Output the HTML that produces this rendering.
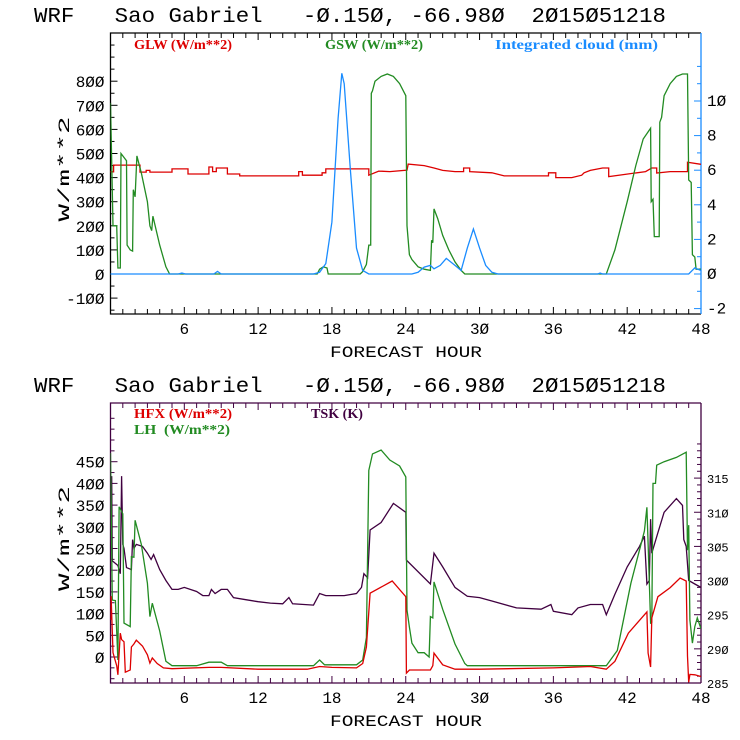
<!DOCTYPE html>
<html><head><meta charset="utf-8"><style>
html,body{margin:0;padding:0;background:#fff;width:740px;height:740px;overflow:hidden}
svg{display:block}
text{white-space:pre}
.t{font-family:"Liberation Mono",monospace;font-size:21px;fill:#000}
.ax{font-family:"Liberation Mono",monospace;font-size:16px;fill:#000}
.sm{font-family:"Liberation Mono",monospace;font-size:12px;fill:#000}
.lg{font-family:"Liberation Serif",serif;font-size:14px;font-weight:bold}
</style></head><body>
<svg id="chart" width="740" height="740" viewBox="0 0 740 740" xmlns="http://www.w3.org/2000/svg"></svg>
<script>
// ---- data (hours, values) ----
const glwH=[0,0.25,0.25,2.4,2.4,2.9,2.9,3.2,3.2,5,5,6.3,6.3,8,8,8.3,8.3,8.6,8.6,9.5,9.5,10.5,10.5,15.3,15.3,15.6,15.6,17.2,17.2,17.5,17.5,21,21,21.8,22.7,24.1,24.2,25.5,26.3,27,28,28.7,28.7,29.2,29.2,31,32,35.6,35.6,36.2,36.2,37.5,38.3,38.5,39,40,40.5,40.5,43.5,44,44.4,44.4,45.5,46.9,46.9,48];
const glwV=[424,424,452,452,423,423,430,430,423,423,436,436,415,415,444,444,425,425,440,440,415,415,407,407,425,425,410,410,420,420,436,436,410,427,425,431,456,450,440,430,425,425,440,440,425,420,407,407,420,420,400,400,410,420,430,440,440,404,425,440,440,419,425,425,464,455];
const gswH=[0,0.2,0.5,0.6,0.8,0.85,1.3,1.35,1.6,1.8,1.85,2.0,2.15,2.5,3.0,3.2,3.35,3.45,4,4.5,4.8,16.8,17.0,17.3,17.6,17.7,20.3,20.5,20.8,21.0,21.15,21.2,21.3,21.5,22,22.5,23,23.5,24,24.1,24.3,24.5,25,25.5,26,26.1,26.2,26.3,26.6,27,27.5,28,28.5,28.8,40.3,41,42,42.7,43.3,43.9,43.95,44.1,44.2,44.6,44.65,44.8,45,45.5,46,46.5,46.9,47.0,47.2,47.3,47.5,47.6,48];
const gswV=[710,200,200,25,25,500,470,120,100,95,350,320,490,420,300,200,180,240,120,30,0,0,20,30,25,0,0,10,40,120,120,750,760,800,820,830,820,790,740,200,80,60,30,20,15,140,130,270,230,160,100,50,15,0,0,100,300,450,560,605,300,310,155,155,630,650,740,790,820,830,830,390,380,80,70,20,20];
const cldH=[0,5.5,5.8,6.1,8.4,8.7,9,16.5,17,17.5,18,18.5,18.8,19,19.5,20,20.5,21,24.5,25,25.5,26,26.3,26.8,27.3,28,28.5,29,29.5,30,30.5,31,31.5,39.6,39.8,40,47,47.5,48];
const cldV=[0,0,0.05,0,0,0.15,0,0,0.1,0.6,3,9,11.6,11,6,1.5,0.2,0,0,0.1,0.4,0.5,0.3,0.5,0.9,0.5,0.2,1.5,2.6,1.5,0.5,0.1,0,0,0.05,0,0,0.35,0.2];
const hfxH=[0,0.05,0.2,0.5,0.6,0.8,0.9,1.1,1.2,1.6,1.7,1.9,2.1,2.6,3,3.2,3.4,3.8,4.3,5,8,9,12,16,17,18,20,20.5,20.8,21.1,22.9,24,24.05,24.3,26,26.2,26.3,27,28,30,36,38,39,40.3,41,42.1,43.6,43.7,43.9,44,44.5,45.5,46.3,46.8,46.9,47,47.1,47.5,48];
const hfxV=[85,140,10,-20,-41,55,40,35,-35,-30,23,30,39,25,5,-14,-2,-15,-25,-27,-24,-24,-28,-28,-22,-24,-25,-15,23,147,175,139,-37,-30,-30,-20,9,-18,-28,-28,-25,-23,-22,-28,-10,55,104,9,-23,90,139,160,182,175,2,-58,-40,-41,-45];
const lhH=[0,0.15,0.4,0.6,0.7,1.0,1.1,1.6,1.7,1.9,2.0,2.5,3.0,3.2,3.4,4,4.5,5,7,8,9,9.5,10,16.5,17,17.4,20,20.5,20.8,21,21.3,22,22.7,23.5,24,24.1,24.3,24.5,25,25.5,25.9,26,26.2,26.3,27,28,28.8,29,40.3,41.2,42.3,43.4,43.6,43.7,43.9,44.0,44.1,44.3,44.4,45,46,46.8,46.9,47.0,47.1,47.3,47.5,47.7,48];
const lhV=[470,131,130,-7,346,330,78,70,231,230,315,260,170,93,124,60,-10,-20,-20,-12,-12,-20,-20,-20,-7,-18,-18,-7,45,430,468,477,454,440,415,108,69,32,10,10,0,93,90,173,110,30,-15,-20,-20,15,170,290,345,262,78,80,400,400,442,450,460,472,246,304,85,32,70,90,65];
const tskH=[0,0.1,0.15,0.2,0.6,0.8,0.9,1.0,1.1,1.3,1.7,1.8,1.9,2.1,2.6,3,3.3,3.5,4,4.5,5,5.5,6,7,7.5,8,8.2,8.5,9,9.5,10,11,12,13,14,14.5,14.8,16.5,17,17.5,19,20,20.4,20.6,20.9,21.1,22,23,24,24.05,26,26.3,27,28,29,30,31,33,35,35.8,36,37.5,38,39,40,40.3,41,42,43,43.4,43.6,43.8,43.9,44,44.5,45,46,46.5,46.6,46.8,47,47.5,48];
const tskV=[307.8,315.3,302.8,302.8,302.2,301,315.3,305.3,304.7,301.9,301.6,306,304.7,305.3,305,304,303.1,303.8,301.6,300,298.7,298.7,299,298.4,297.8,297.8,298.7,298.1,298.7,298.7,297.5,297.2,296.9,296.7,296.6,297.5,296.6,296.4,298.1,297.8,297.8,298.1,299,301,300.4,307.4,308.5,311.3,310,303,299.5,304,302,299,297.7,297.5,297,296,295.8,296.5,295.5,295,296,296.5,296.5,295,298,302,305,306.5,299.5,300,309,304,307,310,312,311,306,305,300,299.5,299];
const xTicks=[6,12,18,24,30,36,42,48];
const topLeftTicks=[-100,0,100,200,300,400,500,600,700,800];
const topRightTicks=[-2,0,2,4,6,8,10];
const botLeftTicks=[0,50,100,150,200,250,300,350,400,450];
const botRightTicks=[285,290,295,300,305,310,315];

const svg=document.getElementById('chart');
const NS='http://www.w3.org/2000/svg';
function mk(tag,attrs,parent){const e=document.createElementNS(NS,tag);for(const k in attrs)e.setAttribute(k,attrs[k]);(parent||svg).appendChild(e);return e;}
const X0=110.5,X1=701;
const xS=h=>X0+(X1-X0)*h/48;
const yT=v=>274-v*0.241;
const yTR=v=>274-v*17.3;
const yB=v=>657-v*0.434;
const yBR=v=>683-(v-285)*6.83;

function line(hs,vs,ys,color,name){
  let d='';for(let i=0;i<hs.length;i++)d+=(i?'L':'M')+xS(hs[i]).toFixed(1)+','+ys(vs[i]).toFixed(1);
  const p=mk('path',{d:d,fill:'none',stroke:color,'stroke-width':1.3,'clip-path':'url(#clip'+(ys===yT||ys===yTR?'T':'B')+')'});
  
  
}
function txt(x,y,s,cls,fill,anchor,name,len){const t=mk('text',{x:x,y:y,class:cls});if(fill)t.setAttribute('fill',fill);if(anchor)t.setAttribute('text-anchor',anchor);
  if(len){t.setAttribute('textLength',len);t.setAttribute('lengthAdjust','spacingAndGlyphs');}
  t.textContent=s;
  
  
  return t;}

const defs=mk('defs',{});
const cT=mk('clipPath',{id:'clipT'},defs);mk('rect',{x:X0,y:33,width:X1-X0,height:281},cT);
const cB=mk('clipPath',{id:'clipB'},defs);mk('rect',{x:X0,y:403,width:X1-X0,height:280},cB);

const fmt=v=>String(v).replace(/0/g,'\u00d8');
function fmtS(v){return String(v).replace(/0/g,'\u00d8');}

function panel(top,bot,frameColor,rightColor,yl,yl2,lt,rt,rtSmall,leftMinor,rightMinor,pfx){
  txt(34,22+top-33,'WRF   Sao Gabriel   -\u00d8.15\u00d8, -66.98\u00d8  2\u00d815\u00d851218','t',null,null,pfx+'-title',632);
  mk('path',{d:`M${X1},${top}H${X0}V${bot}H${X1}`,fill:'none',stroke:frameColor,'stroke-width':1.3});
  mk('line',{x1:X1,y1:top,x2:X1,y2:bot,stroke:rightColor,'stroke-width':1.3});
  for(let h=1;h<48;h++){const x=xS(h),L=(h%6==0)?7:5;
    mk('line',{x1:x,y1:bot,x2:x,y2:bot-L,stroke:frameColor});
    mk('line',{x1:x,y1:top,x2:x,y2:top+L,stroke:frameColor});}
  xTicks.forEach(h=>txt(xS(h),bot+20,fmt(h),'ax',null,'middle',pfx+'-x-tick-'+h));
  txt(330,bot+43,'FORECAST HOUR','ax',null,null,pfx+'-x-axis-title',152);
  for(let v=leftMinor[0];v<=leftMinor[1];v+=leftMinor[2]){const y=yl(v);if(y<top||y>bot)continue;
    mk('line',{x1:X0,y1:y,x2:X0+(lt.includes(v)?7:4),y2:y,stroke:frameColor});}
  lt.forEach(v=>txt(X0-6,yl(v)+6,fmt(v),'ax',null,'end',pfx+'-y-tick-'+v));
  for(let v=rightMinor[0];v<=rightMinor[1];v+=rightMinor[2]){const y=yl2(v);if(y<top||y>bot)continue;
    mk('line',{x1:X1,y1:y,x2:X1-(rt.includes(v)?7:4),y2:y,stroke:rightColor});}
  rt.forEach(v=>txt(X1+6,yl2(v)+5,fmt(v),rtSmall?'sm':'ax',null,'start',pfx+'-y2-tick-'+v));
  const yt=txt(0,0,'W/m**2','ax',null,null,pfx+'-y-axis-title',105);
  yt.setAttribute('transform',`translate(69,${(top+bot)/2+48}) rotate(-90)`);
  yt.setAttribute('font-size','20');
}
panel(33,314,'#000','#1a8cff',yT,yTR,topLeftTicks,topRightTicks,false,[-150,1000,50],[-2,12,1],'top');
panel(403,683,'#400040','#400040',yB,yBR,botLeftTicks,botRightTicks,true,[-50,550,25],[285,320,1],'bottom');

txt(134,49,'GLW (W/m**2)','lg','#dd0000',null,'legend-glw',98);
txt(325,49,'GSW (W/m**2)','lg','#228b22',null,'legend-gsw',98);
txt(495,49,'Integrated cloud (mm)','lg','#1a8cff',null,'legend-cloud',163);
txt(134,418,'HFX (W/m**2)','lg','#dd0000',null,'legend-hfx',98);
txt(134,434,'LH  (W/m**2)','lg','#228b22',null,'legend-lh',96);
txt(311,418,'TSK (K)','lg','#400040',null,'legend-tsk',52);

line(glwH,glwV,yT,'#dd0000','glw-line');
line(gswH,gswV,yT,'#228b22','gsw-line');
line(cldH,cldV,yTR,'#1a8cff','cloud-line');
line(tskH,tskV,yBR,'#400040','tsk-line');
line(lhH,lhV,yB,'#228b22','lh-line');
line(hfxH,hfxV,yB,'#dd0000','hfx-line');
</script>
</body></html>
